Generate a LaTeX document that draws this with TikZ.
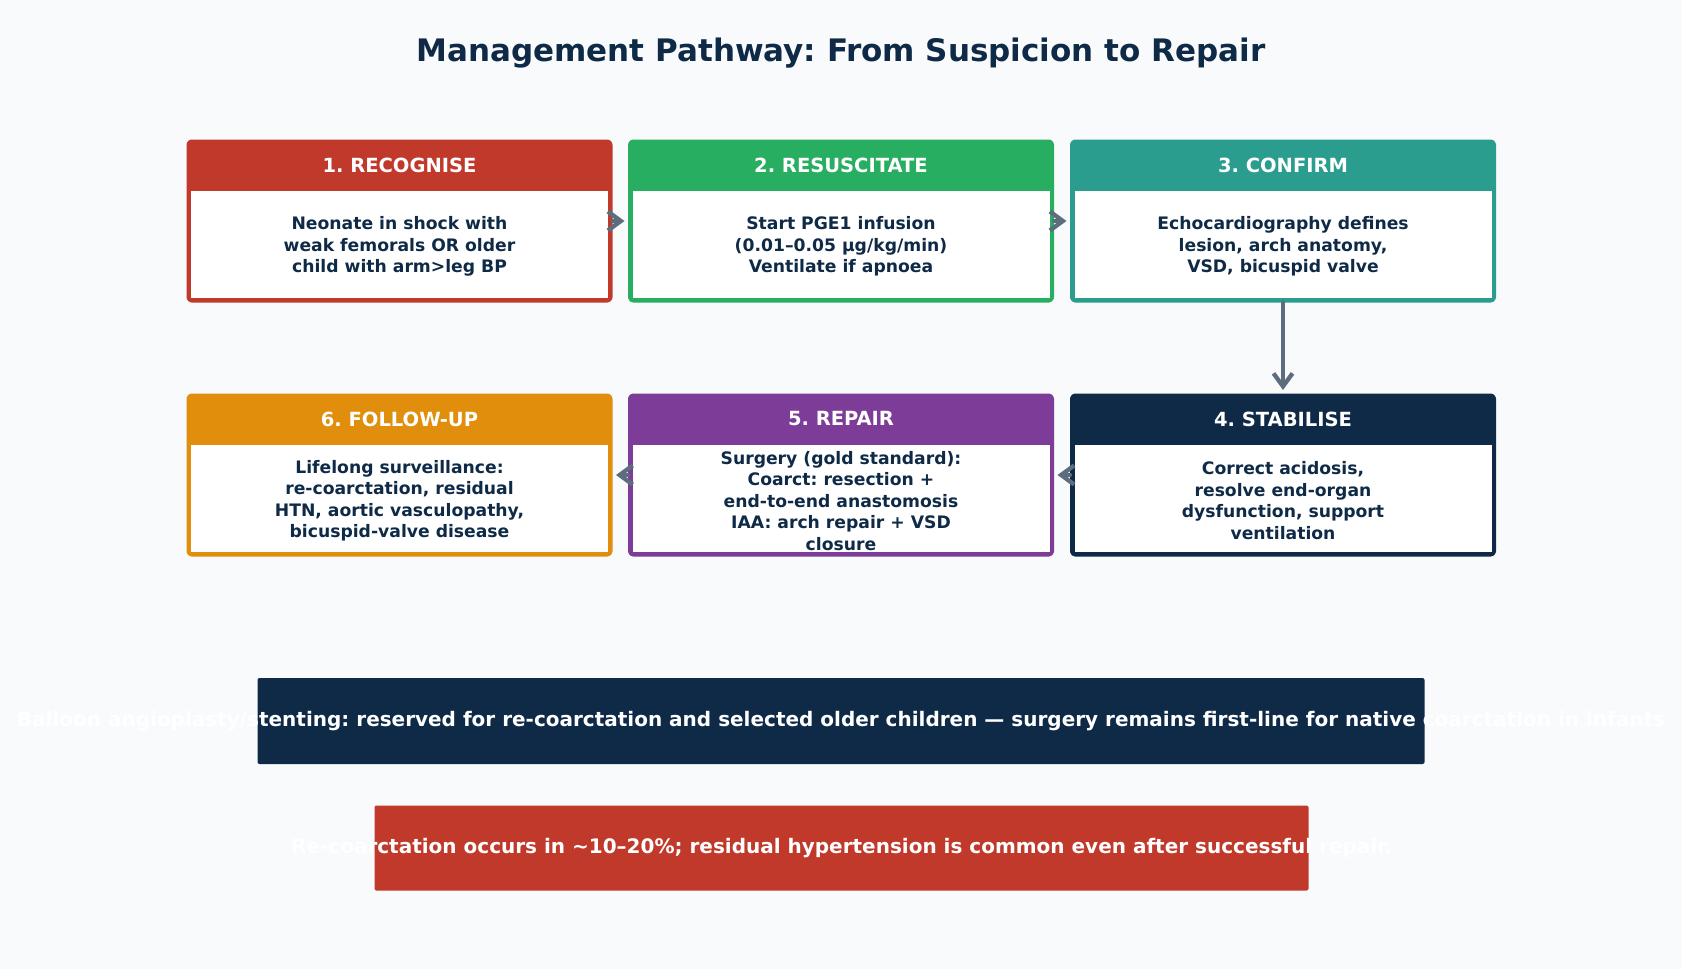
\documentclass[tikz,border=0pt]{standalone}
\usepackage{fontspec}
\setmainfont{DejaVu Sans}
\frenchspacing
\usepackage{tikz}
\usetikzlibrary{arrows.meta}

\definecolor{bgcol}{HTML}{F8FAFC}
\definecolor{navy}{HTML}{0F2A47}
\definecolor{slate}{HTML}{5D6D7E}
\definecolor{recog}{HTML}{C0392B}
\definecolor{resus}{HTML}{27AE60}
\definecolor{confirm}{HTML}{2A9D8F}
\definecolor{repair}{HTML}{7D3C98}
\definecolor{follow}{HTML}{E08E0B}

\begin{document}
\begin{tikzpicture}[line cap=round,line join=round,x=1pt,y=-1pt,
    card/.style={draw=#1,fill=#1,line width=4.5pt,rounded corners=3pt,minimum width=421.5pt,minimum height=158.5pt,inner sep=0pt},
    cardhead/.style={text=white,font=\fontsize{19.5}{23}\selectfont\bfseries},
    cardbody/.style={text=navy,align=center,font=\fontsize{17.2}{21.5}\selectfont\bfseries},
    flow/.style={draw=slate,line width=4.3pt,-{Straight Barb[length=13pt,width=19pt]},shorten >=3.5pt},
    banner/.style={fill=#1,rounded corners=2pt,inner sep=0pt},
    bannertext/.style={text=white,font=\fontsize{20}{24}\selectfont\bfseries}]
  \fill[bgcol] (0,0) rectangle (1682,969);
  \useasboundingbox (0,0) rectangle (1682,969);

  \node[text=navy,font=\fontsize{31}{37}\selectfont\bfseries] (title) at (841,53) {Management Pathway: From Suspicion to Repair};

  % the six steps
  \foreach \n/\cx/\cy/\col/\head/\body in {
      s1/399.5/221/recog/{1. RECOGNISE}/{Neonate in shock with\\weak femorals OR older\\child with arm>leg BP},
      s2/841/221/resus/{2. RESUSCITATE}/{Start PGE1 infusion\\(0.01–0.05 µg/kg/min)\\Ventilate if apnoea},
      s3/1283/221/confirm/{3. CONFIRM}/{Echocardiography defines\\lesion, arch anatomy,\\VSD, bicuspid valve},
      s4/1283/475/navy/{4. STABILISE}/{Correct acidosis,\\resolve end-organ\\dysfunction, support\\ventilation},
      s5/841/475/repair/{5. REPAIR}/{Surgery (gold standard):\\Coarct: resection +\\end-to-end anastomosis\\IAA: arch repair + VSD\\closure},
      s6/399.5/475/follow/{6. FOLLOW-UP}/{Lifelong surveillance:\\re-coarctation, residual\\HTN, aortic vasculopathy,\\bicuspid-valve disease}}{
    \node[card=\col] (\n) at (\cx,\cy) {};
    \fill[white] (\cx-208.5,\cy-30) rectangle (\cx+208.5,\cy+77);
    \node[cardhead] (\n head) at (\cx,\cy-56) {\head};
    \node[cardbody] (\n body) at (\cx,\cy+25.7) {\body};
  }

  \draw[flow] (s1) -- (s2);
  \draw[flow] (s2) -- (s3);
  \draw[flow] (s3) -- (s4);
  \draw[flow] (s4) -- (s5);
  \draw[flow] (s5) -- (s6);

  % notes
  \node[banner=navy,minimum width=1167pt,minimum height=86pt] (note1) at (841,721) {};
  \node[bannertext] (note1text) at (note1.center) {Balloon angioplasty/stenting: reserved for re-coarctation and selected older children — surgery remains first-line for native coarctation in infants};
  \node[banner=recog,minimum width=934pt,minimum height=85pt] (note2) at (841.5,848) {};
  \node[bannertext] (note2text) at (note2.center) {Re-coarctation occurs in \textasciitilde10–20\%; residual hypertension is common even after successful repair.};
\end{tikzpicture}
\end{document}
